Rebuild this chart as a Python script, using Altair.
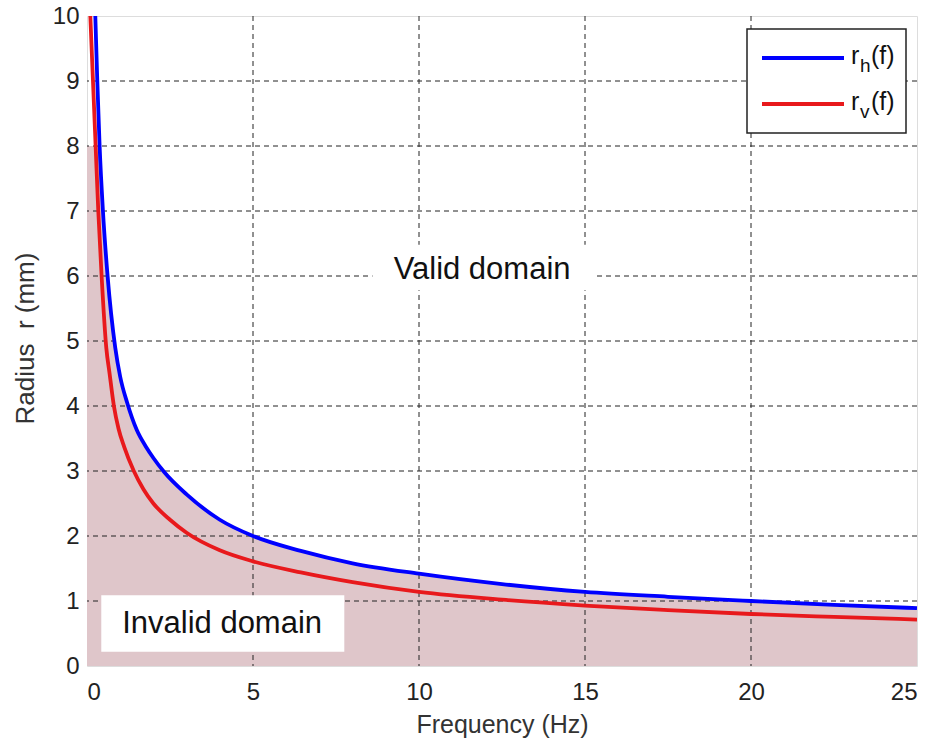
import altair as alt
import pandas as pd
import numpy as np

# ---- data ----
f_h = [0.25, 0.31, 0.38, 0.48, 0.62, 0.85, 1.0, 1.21, 1.50, 1.78, 2.0, 2.33, 3.0, 4.0, 5.0,
       6.44, 8.0, 10.0, 12.5, 15.0, 17.5, 20.0, 22.5, 25.0]
r_h = [10.0, 9.0, 8.0, 7.0, 6.0, 4.9, 4.45, 4.05, 3.63, 3.37, 3.20, 2.98, 2.64, 2.25, 2.0,
       1.77, 1.58, 1.42, 1.26, 1.14, 1.065, 1.0, 0.94, 0.89]

f_v = [0.10, 0.18, 0.26, 0.34, 0.44, 0.58, 0.68, 0.81, 0.95, 1.12, 1.41, 1.7, 2.0, 2.5,
       3.0, 4.0, 5.0, 6.44, 8.0, 10.0, 12.5, 15.0, 17.5, 20.0, 22.5, 25.0]
r_v = [10.0, 9.0, 8.0, 7.0, 6.0, 4.9, 4.5, 4.0, 3.65, 3.37, 3.0, 2.72, 2.5, 2.25,
       2.05, 1.78, 1.61, 1.44, 1.29, 1.14, 1.02, 0.93, 0.86, 0.80, 0.755, 0.715]

area_cap = 8.0          # shading of the invalid domain stops at r = 8
x_ticks = [0, 5, 10, 15, 20, 25]
y_ticks = list(range(0, 11))
series_names = ["r_h", "r_v"]

FONT = "Liberation Sans"
BLUE = "#0000ff"
RED = "#e8191c"
FILL = "#dfc6ca"

xs = alt.Scale(domain=[0, 25], nice=False, zero=False)
ys = alt.Scale(domain=[0, 10], nice=False, zero=False)

lines_df = pd.concat([
    pd.DataFrame({"f": f_h, "r": r_h, "s": series_names[0]}),
    pd.DataFrame({"f": f_v, "r": r_v, "s": series_names[1]}),
])
area_df = pd.DataFrame({"f": [0.0] + f_h,
                        "r": [area_cap] + list(np.minimum(r_h, area_cap))})
xgrid_df = pd.DataFrame({"v": x_ticks[1:-1]})
ygrid_df = pd.DataFrame({"v": y_ticks[1:-1]})

X = alt.X("f:Q", scale=xs,
          axis=alt.Axis(values=x_ticks, format="d", title="Frequency (Hz)", grid=False,
                        domain=False, ticks=False, labelPadding=14,
                        labelFontSize=24, labelColor="#222", labelFont=FONT,
                        titleFont=FONT, titleFontSize=25, titleFontWeight="normal",
                        titleColor="#333", titleX=415, titleY=58,
                        titleBaseline="middle", titleAlign="center"))
Y = alt.Y("r:Q", scale=ys,
          axis=alt.Axis(values=y_ticks, format="d", title="Radius\u00a0 r (mm)", grid=False,
                        domain=False, ticks=False, labelPadding=8,
                        labelFontSize=24, labelColor="#222", labelFont=FONT,
                        titleFont=FONT, titleFontSize=26, titleFontWeight="normal",
                        titleColor="#333", titleX=-62, titleY=322, titleLimit=400,
                        titleAngle=-90, titleBaseline="middle", titleAlign="center"))

area = alt.Chart(area_df).mark_area(color=FILL, interpolate="monotone", opacity=1).encode(x=X, y=Y)

grid_style = dict(color="#222", strokeWidth=1, strokeDash=[5, 4])
xgrid = alt.Chart(xgrid_df).mark_rule(**grid_style).encode(x=alt.X("v:Q", scale=xs))
ygrid = alt.Chart(ygrid_df).mark_rule(**grid_style).encode(y=alt.Y("v:Q", scale=ys))

# annotation boxes and labels
ann_df = pd.DataFrame({
    "label": ["Valid domain", "Invalid domain"],
    "x": [11.9, 4.07], "y": [6.1, 0.65],
    "x0": [8.6, 0.43], "x1": [15.25, 7.75],
    "y0": [5.78, 0.22], "y1": [6.48, 1.09],
})
boxes = alt.Chart(ann_df).mark_rect(color="white").encode(
    x=alt.X("x0:Q", scale=xs), x2="x1:Q",
    y=alt.Y("y0:Q", scale=ys), y2="y1:Q")
labels = alt.Chart(ann_df).mark_text(font=FONT, fontSize=31, color="#111",
                                     baseline="middle", align="center").encode(
    x=alt.X("x:Q", scale=xs), y=alt.Y("y:Q", scale=ys), text="label:N")

lines = alt.Chart(lines_df).mark_line(strokeWidth=3.8, interpolate="monotone").encode(
    x=alt.X("f:Q", scale=xs), y=alt.Y("r:Q", scale=ys),
    color=alt.Color("s:N", scale=alt.Scale(domain=series_names, range=[BLUE, RED]),
                    legend=None),
    detail="s:N")

# custom legend (plot-area pixel positions)
one = pd.DataFrame({"k": [0]})
leg_box = alt.Chart(one).mark_rect(fill="white", stroke="#222", strokeWidth=1.5).encode(
    x=alt.value(660), x2=alt.value(819), y=alt.value(13), y2=alt.value(117))
leg_parts = [leg_box]
for name, sub, col, yy in [(series_names[0], "h", BLUE, 42), (series_names[1], "v", RED, 88)]:
    leg_parts.append(alt.Chart(one).mark_rule(color=col, strokeWidth=3.8).encode(
        x=alt.value(675), x2=alt.value(757), y=alt.value(yy)))
    leg_parts.append(alt.Chart(one).mark_text(text="r", font=FONT, fontSize=25, color="#111",
                                              align="left", baseline="alphabetic").encode(
        x=alt.value(764), y=alt.value(yy + 6)))
    leg_parts.append(alt.Chart(one).mark_text(text=sub, font=FONT, fontSize=19, color="#111",
                                              align="left", baseline="alphabetic").encode(
        x=alt.value(773), y=alt.value(yy + 14)))
    leg_parts.append(alt.Chart(one).mark_text(text="(f)", font=FONT, fontSize=25, color="#111",
                                              align="left", baseline="alphabetic").encode(
        x=alt.value(784), y=alt.value(yy + 6)))

chart = alt.layer(area, xgrid, ygrid, boxes, labels, lines, *leg_parts).properties(
    width=830, height=650,
    autosize=alt.AutoSizeParams(type="none"),
    padding={"left": 87, "top": 16, "right": 16, "bottom": 79},
).configure_view(stroke="#111", strokeWidth=1.5).configure(background="white")

chart.save("out.html", embed_options={"renderer": "svg", "actions": False})
